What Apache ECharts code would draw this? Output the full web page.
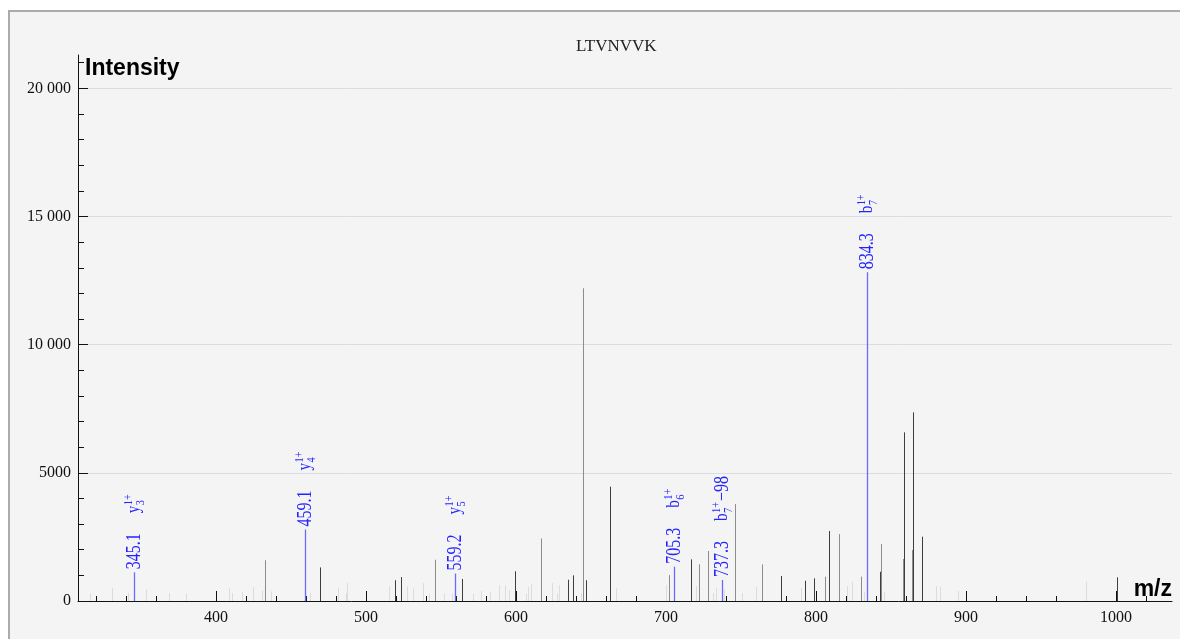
<!DOCTYPE html>
<html><head><meta charset="utf-8">
<script src="https://cdn.jsdelivr.net/npm/echarts@6/dist/echarts.min.js"></script>
<style>
html,body{margin:0;padding:0;background:#fff;width:1180px;height:639px;overflow:hidden;}
#panel{position:absolute;left:8px;top:10px;width:1200px;height:660px;background:#f4f4f4;border-left:2px solid #ababab;border-top:2px solid #ababab;}
#main{position:absolute;left:0;top:0;width:1180px;height:639px;}
</style></head><body><div id="panel"></div><div id="main"></div>
<script>
// ---- data ----
const peptide = 'LTVNVVK';
const xLabelTicks = [400, 500, 600, 700, 800, 900, 1000];
const xMinorTicks = [320,340,360,380,420,440,460,480,520,540,560,580,620,640,660,680,720,740,760,780,820,840,860,880,920,940,960,980,1020];
const yLabelTicks = [0, 5000, 10000, 15000, 20000];
const yMinorTicks = [1000,2000,3000,4000,6000,7000,8000,9000,11000,12000,13000,14000,16000,17000,18000,19000,21000];

// unassigned peaks, faint
const faintPeaks = [[315.8,310],[330.7,520],[341.3,310],[353.6,455],[368.4,310],[380.2,285],[408.4,495],[410.7,310],[417.5,350],[424.7,545],[430.7,415],[436.4,375],[462.7,310],[481.6,520],[486.4,310],[487.6,715],[515.6,570],[527.6,570],[531.6,480],[537.8,700],[541.8,285],[551.8,285],[557.1,285],[571.6,285],[576.7,390],[582.7,340],[588.9,610],[592.7,610],[595.0,430],[606.7,285],[607.8,545],[609.8,675],[623.8,700],[627.1,310],[628.9,610],[643.0,310],[666.7,495],[699.8,625],[719.8,585],[731.6,310],[733.3,495],[738.7,430],[750.9,300],[759.8,560],[789.8,520],[820.9,585],[823.8,755],[832.0,350],[845.6,365],[880.0,585],[882.9,560],[894.9,390],[980.0,755]];
// unassigned peaks, medium
const greyPeaks = [[432.4,1590],[545.8,1610],[616.7,2440],[644.9,12200],[701.8,1010],[721.8,1430],[727.8,1950],[745.8,3780],[763.8,1430],[806.0,950],[815.6,2610],[829.8,950],[843.1,2220],[857.8,1640],[863.8,1990]];
// unassigned peaks, strong
const darkPeaks = [[469.6,1310],[519.6,810],[523.6,935],[564.0,860],[599.6,1160],[634.7,830],[637.8,1000],[646.7,810],[662.9,4460],[716.7,1625],[776.7,975],[792.9,790],[798.9,885],[808.9,2730],[842.7,1140],[858.7,6580],[864.9,7360],[870.9,2510],[1000.9,925]];

// assigned fragment ions
const annMz = [345.1, 459.1, 559.2, 705.3, 737.3, 834.3];
const annIntensity = [1120, 2790, 1070, 1340, 820, 12820];
const annIon = ['y', 'y', 'y', 'b', 'b', 'b'];
const annIndex = ['3', '4', '5', '6', '7', '7'];
const annCharge = ['1+', '1+', '1+', '1+', '1+', '1+'];
const annLoss = ['', '', '', '', '\u221298', ''];

// ---- styles ----
const SERIF = '"Liberation Serif", "Times New Roman", serif';
const SANS = '"Liberation Sans", Arial, sans-serif';
const blueText = '#2323ff';
const blueLine = '#6a6aff';
const mctx = document.createElement('canvas').getContext('2d');
function tw(text, size) { mctx.font = size + 'px ' + SERIF; return mctx.measureText(text).width; }

function peakSeries(data, color) {
  return {
    type: 'custom', silent: true, data: data,
    renderItem: function (params, api) {
      const top = api.coord([api.value(0), api.value(1)]);
      const base = api.coord([api.value(0), 0]);
      const x = Math.round(top[0]) + 0.5;
      return { type: 'line', shape: { x1: x, y1: base[1], x2: x, y2: top[1] }, style: { stroke: color, lineWidth: 1 } };
    }
  };
}

const annData = annMz.map((m, i) => [m, annIntensity[i]]);

const annSeries = {
  type: 'custom', silent: true, data: annData, z: 5,
  renderItem: function (params, api) {
    const i = params.dataIndex;
    const top = api.coord([api.value(0), api.value(1)]);
    const base = api.coord([api.value(0), 0]);
    const x = Math.round(top[0]) + 0.5;
    const k = 0.8;
    const big = 20, ionSize = 19, small = 13;
    const mzText = annMz[i].toFixed(1);
    const gap = 3 / k;
    let cx = gap + tw(mzText, big) + 20 / k;
    const ts = (t, size) => ({ text: t, fill: blueText, fontSize: size, fontFamily: SERIF, align: 'left', verticalAlign: 'middle' });
    const children = [{ type: 'text', x: gap, y: 0, style: ts(mzText, big) }];
    children.push({ type: 'text', x: cx, y: 0, style: ts(annIon[i], ionSize) });
    cx += tw(annIon[i], ionSize) + 0.5;
    children.push({ type: 'text', x: cx, y: -6, style: ts(annCharge[i], small) });
    children.push({ type: 'text', x: cx, y: 6, style: ts(annIndex[i], small) });
    cx += Math.max(tw(annCharge[i], small), tw(annIndex[i], small)) + 1;
    if (annLoss[i]) children.push({ type: 'text', x: cx, y: 0, style: ts(annLoss[i], big) });
    return {
      type: 'group', children: [
        { type: 'line', shape: { x1: x, y1: base[1], x2: x, y2: top[1] }, style: { stroke: blueLine, lineWidth: 1.3 } },
        { type: 'group', x: x, y: top[1], rotation: Math.PI / 2, scaleX: k, children: children }
      ]
    };
  }
};

const XMIN = 308, XMAX = 1037.3, YMAX = 21300;
const chart = echarts.init(document.getElementById('main'), null, { renderer: 'canvas' });
chart.setOption({
  animation: false,
  backgroundColor: 'transparent',
  title: {
    text: peptide, left: 571, top: 33,
    textStyle: { fontFamily: SERIF, fontSize: 17, fontWeight: 'normal', color: '#222' }
  },
  grid: { left: 78, right: 8, top: 55, bottom: 38 },
  xAxis: [{
    type: 'value', min: XMIN, max: XMAX,
    name: 'm/z', nameLocation: 'end', nameGap: 0,
    nameTextStyle: { align: 'right', verticalAlign: 'bottom', fontFamily: SANS, fontWeight: 'bold', fontSize: 23, color: '#000' },
    axisLine: { show: true, lineStyle: { color: '#111', width: 1 } },
    axisTick: { show: true, inside: true, length: 10, customValues: xLabelTicks, lineStyle: { color: '#111' } },
    axisLabel: { customValues: xLabelTicks, margin: 9, fontFamily: SERIF, fontSize: 16, color: '#111', formatter: v => String(v) },
    splitLine: { show: false }
  }, {
    type: 'value', min: XMIN, max: XMAX, position: 'bottom',
    axisLine: { show: false },
    axisTick: { show: true, inside: true, length: 5, customValues: xMinorTicks, lineStyle: { color: '#111' } },
    axisLabel: { show: false },
    splitLine: { show: false }
  }],
  yAxis: [{
    type: 'value', min: 0, max: YMAX,
    name: 'Intensity', nameLocation: 'end', nameGap: -14,
    nameTextStyle: { align: 'left', verticalAlign: 'middle', padding: [0, 0, 0, 7], fontFamily: SANS, fontWeight: 'bold', fontSize: 23, color: '#000' },
    axisLine: { show: true, lineStyle: { color: '#111', width: 1 } },
    axisTick: { show: true, inside: true, length: 10, customValues: yLabelTicks, lineStyle: { color: '#111' } },
    axisLabel: {
      customValues: yLabelTicks, margin: 7, fontFamily: SERIF, fontSize: 16, color: '#111',
      formatter: v => v >= 10000 ? String(v).replace(/(\d+)(\d{3})$/, '$1 $2') : String(v)
    },
    splitLine: { show: true, lineStyle: { color: '#dcdcdc', width: 1 } }
  }, {
    type: 'value', min: 0, max: YMAX, position: 'left',
    axisLine: { show: false },
    axisTick: { show: true, inside: true, length: 6, customValues: yMinorTicks, lineStyle: { color: '#111' } },
    axisLabel: { show: false },
    splitLine: { show: false }
  }],
  series: [
    peakSeries(faintPeaks, '#dcdcdc'),
    peakSeries(greyPeaks, '#8c8c8c'),
    peakSeries(darkPeaks, '#3e3e3e'),
    annSeries
  ]
});
</script></body></html>
